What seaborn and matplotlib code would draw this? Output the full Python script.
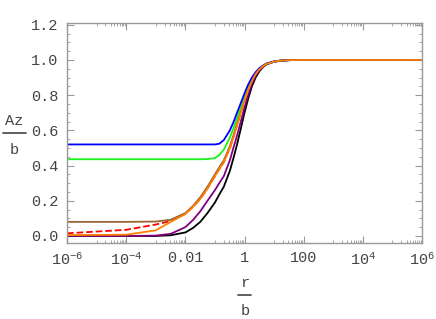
import numpy as np
import pandas as pd
import seaborn as sns
import matplotlib.pyplot as plt
from matplotlib.lines import Line2D
from matplotlib.ticker import FixedLocator, MultipleLocator, NullFormatter

# r/b sample points
r = [1e-6, 1e-4, 1e-3, 3.2e-3, 1e-2, 0.018, 0.032, 0.056, 0.1, 0.14,
     0.2, 0.32, 0.42, 0.56, 0.75, 1.0, 1.33, 1.78, 2.37, 3.16,
     4.22, 5.62, 10.0, 17.8, 31.6, 100.0, 1e6]

az_black = [0.0, 0.0, 0.0, 0.004, 0.02, 0.045, 0.08, 0.13, 0.19, 0.235,
            0.28, 0.37, 0.44, 0.52, 0.61, 0.7, 0.78, 0.85, 0.9, 0.935,
            0.96, 0.975, 0.99, 0.996, 0.999, 1.0, 1.0]
az_purple = [0.0, 0.0, 0.002, 0.012, 0.05, 0.09, 0.14, 0.2, 0.26, 0.3,
             0.34, 0.43, 0.5, 0.57, 0.65, 0.73, 0.8, 0.865, 0.91, 0.94,
             0.962, 0.977, 0.99, 0.996, 0.999, 1.0, 1.0]
az_red = [0.015, 0.035, 0.065, 0.085, 0.125, 0.165, 0.21, 0.27, 0.34, 0.38,
          0.42, 0.5, 0.56, 0.63, 0.7, 0.77, 0.83, 0.88, 0.92, 0.947,
          0.965, 0.978, 0.991, 0.997, 0.999, 1.0, 1.0]
az_orange = [0.005, 0.007, 0.032, 0.08, 0.125, 0.165, 0.21, 0.27, 0.34, 0.38,
             0.42, 0.5, 0.56, 0.63, 0.7, 0.77, 0.83, 0.88, 0.92, 0.947,
             0.965, 0.978, 0.991, 0.997, 0.999, 1.0, 1.0]
az_brown = [0.08, 0.08, 0.082, 0.092, 0.13, 0.17, 0.22, 0.28, 0.35, 0.39,
            0.43, 0.51, 0.57, 0.64, 0.71, 0.775, 0.835, 0.885, 0.922, 0.948,
            0.966, 0.979, 0.991, 0.997, 0.999, 1.0, 1.0]
az_green = [0.436, 0.436, 0.436, 0.436, 0.436, 0.436, 0.436, 0.437, 0.442, 0.46,
            0.49, 0.56, 0.61, 0.67, 0.73, 0.79, 0.845, 0.89, 0.925, 0.95,
            0.967, 0.979, 0.991, 0.997, 0.999, 1.0, 1.0]
az_blue = [0.52, 0.52, 0.52, 0.52, 0.52, 0.52, 0.52, 0.52, 0.52, 0.524,
           0.545, 0.6, 0.645, 0.7, 0.755, 0.81, 0.86, 0.9, 0.93, 0.953,
           0.968, 0.98, 0.992, 0.997, 0.999, 1.0, 1.0]

xtick_pos = [1e-6, 1e-4, 1e-2, 1, 1e2, 1e4, 1e6]
xtick_lab = [r'$10^{-6}$', r'$10^{-4}$', '0.01', '1', '100', r'$10^{4}$', r'$10^{6}$']
ytick_pos = [0.0, 0.2, 0.4, 0.6, 0.8, 1.0, 1.2]

sns.set_style('ticks')
plt.rcParams['font.family'] = ['Liberation Mono', 'DejaVu Sans Mono']
plt.rcParams['mathtext.fontset'] = 'custom'
plt.rcParams['mathtext.rm'] = 'Liberation Mono'
plt.rcParams['mathtext.it'] = 'Liberation Mono'
plt.rcParams['mathtext.default'] = 'rm'

fig = plt.figure(figsize=(4.36, 3.19), dpi=100)
ax = fig.add_axes([67 / 436, 1 - 243 / 319, 355 / 436, 220 / 319])

# drawing order matches the reference overlaps
curves = [
    (az_black, 'black', '-'),
    (az_purple, (0.5, 0.0, 0.5), '-'),
    (az_red, (1.0, 0.0, 0.0), '--'),
    (az_brown, (0.6, 0.4, 0.2), '-'),
    (az_green, (0.1, 0.95, 0.1), '-'),
    (az_blue, (0.0, 0.0, 1.0), '-'),
    (az_orange, (1.0, 0.5, 0.0), '-'),
]
for vals, col, ls in curves:
    df = pd.DataFrame({'r': r, 'Az': vals})
    sns.lineplot(data=df, x='r', y='Az', ax=ax, color=col, linestyle=ls,
                 linewidth=1.3, legend=False)

ax.set_xscale('log')
ax.set_xlim(1e-6, 1e6)
ax.set_ylim(-0.04, 1.21)
ax.set_xlabel('')
ax.set_ylabel('')

ax.xaxis.set_major_locator(FixedLocator(xtick_pos))
ax.set_xticklabels(xtick_lab)
minor = []
for e in range(-5, 7, 2):
    minor.append(10.0 ** e)
    for k in range(2, 10):
        minor.append(k * 10.0 ** e)
ax.xaxis.set_minor_locator(FixedLocator(minor))
ax.xaxis.set_minor_formatter(NullFormatter())
ax.yaxis.set_major_locator(FixedLocator(ytick_pos))
ax.set_yticklabels([f'{v:.1f}' for v in ytick_pos])
ax.yaxis.set_minor_locator(MultipleLocator(0.05))
ax.yaxis.set_minor_formatter(NullFormatter())

frame = '#999999'
for s in ax.spines.values():
    s.set_color(frame)
    s.set_linewidth(1.0)
ax.tick_params(which='both', direction='in', top=True, right=True,
               color=frame, labelcolor='#444444', labelsize=11)
ax.tick_params(which='major', length=5, width=0.8, pad=6)
ax.tick_params(which='minor', length=2.5, width=0.6)

# fraction labels Az/b and r/b
fig.text(14 / 436, 1 - 121 / 319, 'Az', ha='center', va='center',
         fontsize=11, color='#444444')
fig.text(14 / 436, 1 - 150 / 319, 'b', ha='center', va='center',
         fontsize=11, color='#444444')
fig.add_artist(Line2D([3 / 436, 26 / 436], [1 - 133 / 319, 1 - 133 / 319],
                      color='#444444', linewidth=1.2))
fig.text(245 / 436, 1 - 283 / 319, 'r', ha='center', va='center',
         fontsize=11, color='#444444')
fig.text(245 / 436, 1 - 311 / 319, 'b', ha='center', va='center',
         fontsize=11, color='#444444')
fig.add_artist(Line2D([238 / 436, 251 / 436], [1 - 295 / 319, 1 - 295 / 319],
                      color='#444444', linewidth=1.2))

fig.savefig('out.png', dpi=100)
